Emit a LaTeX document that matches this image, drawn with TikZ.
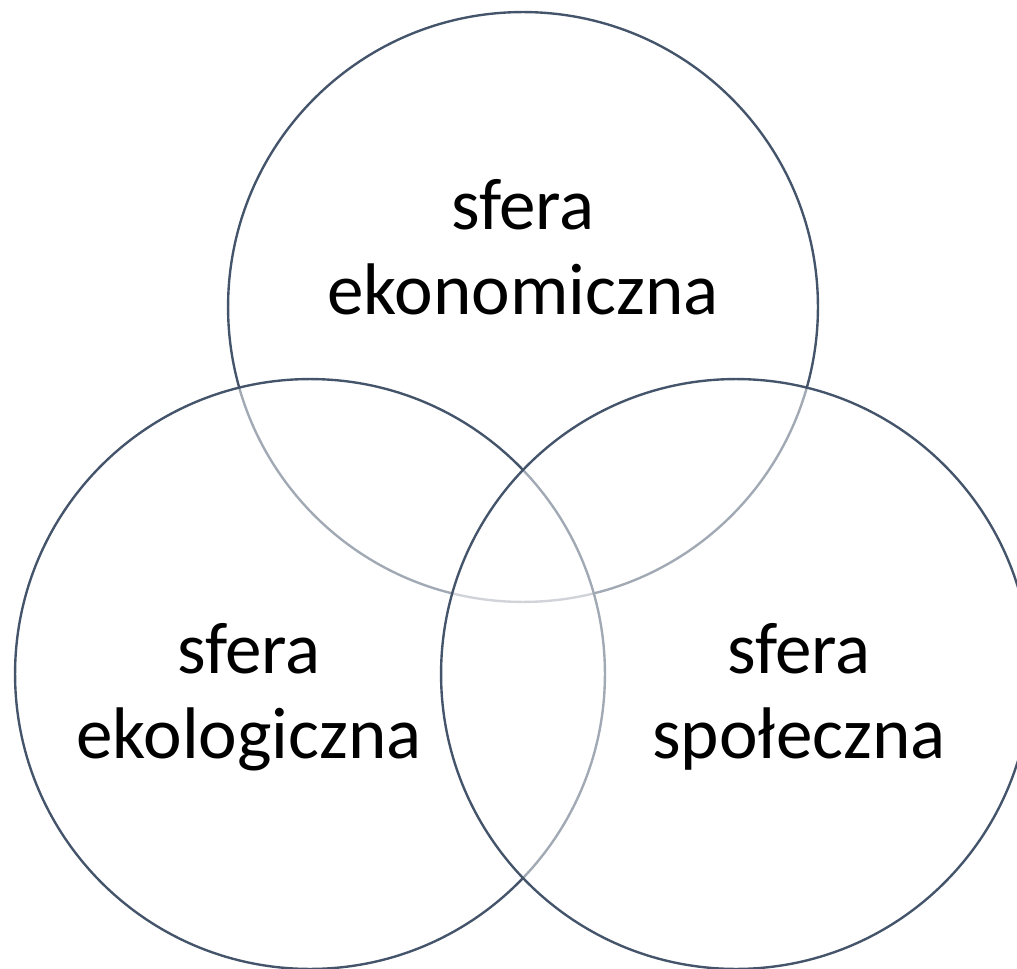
\documentclass[tikz,border=0pt]{standalone}
\usepackage{fontspec}
\setmainfont{Carlito}

\definecolor{granat}{HTML}{44546A}

\begin{document}
\begin{tikzpicture}[x=0.02cm,y=-0.02cm]
		\tikzstyle{sfera} = [circle,draw=granat,line width=1.35pt,fill=white,fill opacity=0.5,minimum size=11.8cm,inner sep=0pt]
		\tikzstyle{napis} = [align=center,font=\fontsize{41.6}{48.4}\selectfont,text=black]
		
		\useasboundingbox (0,0) rectangle (1017,969);
		\clip (0,0) rectangle (1017,969);
		
		\node[sfera](Ekonomia) at (523,307) {};
		\node[sfera](Ekologia) at (310,674) {};
		\node[sfera](Spoleczenstwo) at (736,674) {};
		
		\node[napis](tEkonomia) at (523,247) {sfera\\ekonomiczna};
		\node[napis](tEkologia) at (249,697) {sfera\\ekologiczna};
		\node[napis](tSpoleczenstwo) at (799,697) {sfera\\społeczna};
\end{tikzpicture}
\end{document}
